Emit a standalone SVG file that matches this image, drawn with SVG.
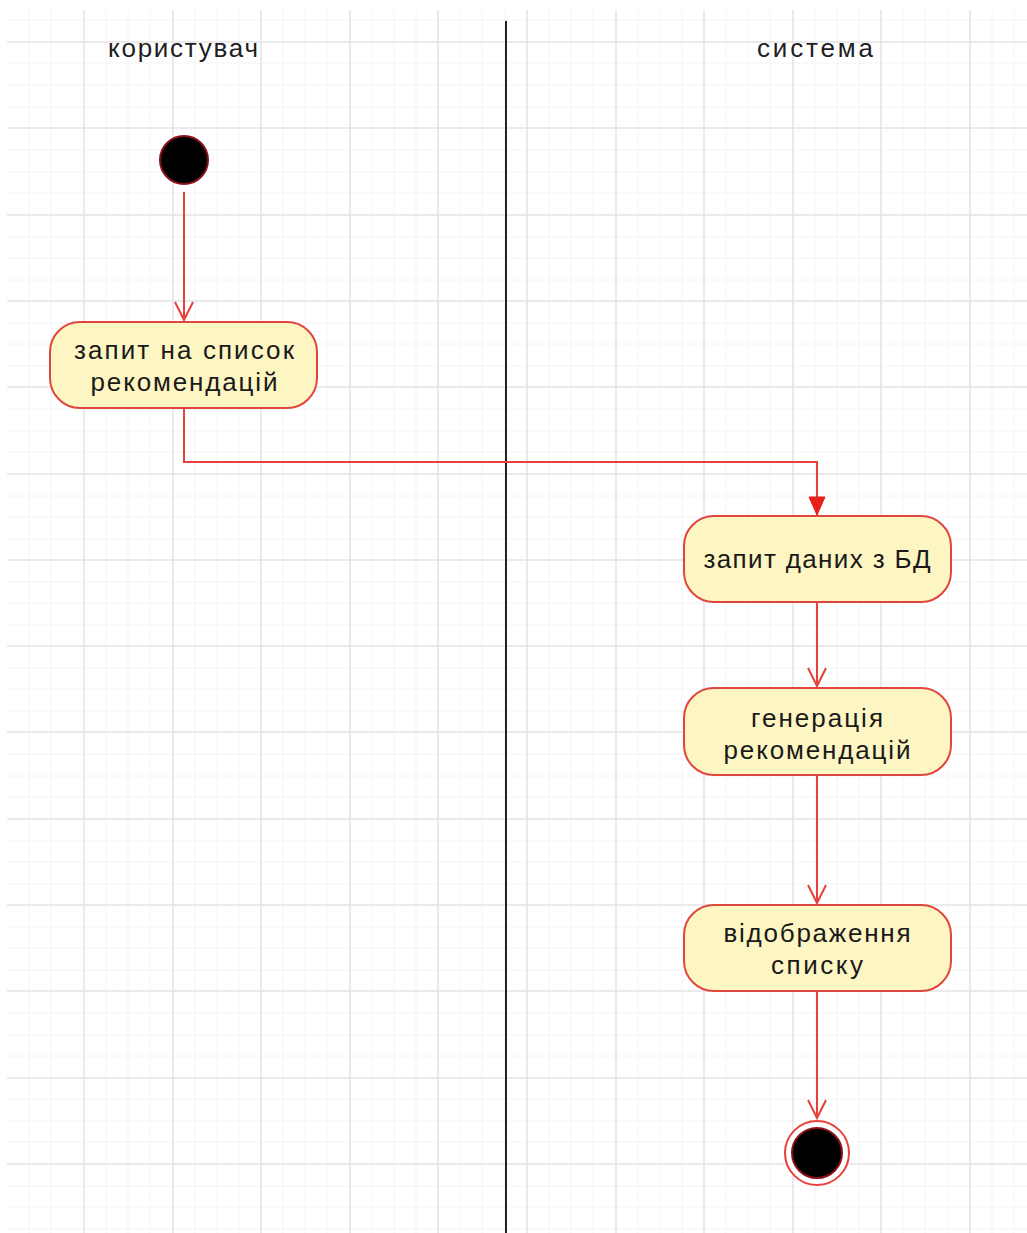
<svg xmlns="http://www.w3.org/2000/svg" width="1027" height="1233" viewBox="0 0 1027 1233">
<style>
.minor{stroke:#f4f4f4;stroke-width:1;fill:none}
.major{stroke:#e4e4e4;stroke-width:1.5;fill:none}
.lane{stroke:#222;stroke-width:2;fill:none}
.hdr{font-family:"Liberation Sans",Arial,sans-serif;font-size:26px;fill:#1e1e22;text-anchor:middle}
.act rect{fill:#fdf6c2;stroke:#e0463f;stroke-width:2}
.act text{font-family:"Liberation Sans",Arial,sans-serif;font-size:26px;fill:#1a1a1a;text-anchor:middle}
.conn path{stroke:#e8403c;stroke-width:2;fill:none}
</style>
<defs>
<marker id="open" markerWidth="24" markerHeight="24" viewBox="-20 -12 24 24" refX="0" refY="0" orient="auto" markerUnits="userSpaceOnUse">
<path d="M-18,-9 L0,0 L-18,9" fill="none" stroke="#e8403c" stroke-width="2"/>
</marker>
<marker id="filled" markerWidth="24" markerHeight="24" viewBox="-20 -12 24 24" refX="0" refY="0" orient="auto" markerUnits="userSpaceOnUse">
<path d="M-18,-8 L0,0 L-18,8 Z" fill="#e8201c" stroke="#e8201c" stroke-width="1"/>
</marker>
</defs>
<rect x="0" y="0" width="1027" height="1233" fill="#ffffff"/>
<g id="grid">
<path class="minor" d="M29,10V1233M51,10V1233M106,10V1233M128,10V1233M150,10V1233M195,10V1233M217,10V1233M239,10V1233M283,10V1233M305,10V1233M327,10V1233M372,10V1233M394,10V1233M416,10V1233M460,10V1233M482,10V1233M505,10V1233M549,10V1233M571,10V1233M593,10V1233M638,10V1233M660,10V1233M682,10V1233M726,10V1233M748,10V1233M770,10V1233M815,10V1233M837,10V1233M859,10V1233M903,10V1233M925,10V1233M948,10V1233M992,10V1233M1014,10V1233 M7,20H1027M7,63H1027M7,85H1027M7,107H1027M7,150H1027M7,172H1027M7,193H1027M7,237H1027M7,258H1027M7,280H1027M7,323H1027M7,344H1027M7,366H1027M7,409H1027M7,431H1027M7,452H1027M7,496H1027M7,517H1027M7,539H1027M7,582H1027M7,603H1027M7,625H1027M7,668H1027M7,689H1027M7,711H1027M7,754H1027M7,776H1027M7,797H1027M7,841H1027M7,862H1027M7,884H1027M7,927H1027M7,948H1027M7,970H1027M7,1013H1027M7,1035H1027M7,1056H1027M7,1099H1027M7,1121H1027M7,1142H1027M7,1186H1027M7,1207H1027M7,1229H1027"/>
<path class="major" d="M84,10V1233M173,10V1233M261,10V1233M350,10V1233M438,10V1233M527,10V1233M616,10V1233M704,10V1233M793,10V1233M881,10V1233M970,10V1233 M7,42H1027M7,128H1027M7,215H1027M7,301H1027M7,387H1027M7,474H1027M7,560H1027M7,646H1027M7,732H1027M7,819H1027M7,905H1027M7,991H1027M7,1078H1027M7,1164H1027"/>
</g>
<g id="swimlanes">
<path class="lane" d="M506,21V1233"/>
<text class="hdr" x="183" y="57" textLength="150" lengthAdjust="spacing">користувач</text>
<text class="hdr" x="815" y="57" textLength="116" lengthAdjust="spacing">система</text>
</g>
<g class="conn" id="connectors">
<path d="M184,192V320" marker-end="url(#open)"/>
<path d="M184,408V462H817V515" marker-end="url(#filled)"/>
<path d="M817,603V686" marker-end="url(#open)"/>
<path d="M817,775V903" marker-end="url(#open)"/>
<path d="M817,991V1118" marker-end="url(#open)"/>
</g>
<g id="start">
<circle cx="184" cy="160" r="24" fill="#000" stroke="#8a1018" stroke-width="2"/>
</g>
<g class="act" id="n1">
<rect x="50" y="322" width="267" height="86" rx="30" ry="30"/>
<text x="184" y="359" textLength="220" lengthAdjust="spacing">запит на список</text>
<text x="184" y="391" textLength="187" lengthAdjust="spacing">рекомендацій</text>
</g>
<g class="act" id="n2">
<rect x="684" y="516" width="267" height="86" rx="30" ry="30"/>
<text x="817" y="568" textLength="227" lengthAdjust="spacing">запит даних з БД</text>
</g>
<g class="act" id="n3">
<rect x="684" y="688" width="267" height="87" rx="30" ry="30"/>
<text x="817" y="727" textLength="132" lengthAdjust="spacing">генерація</text>
<text x="817" y="759" textLength="187" lengthAdjust="spacing">рекомендацій</text>
</g>
<g class="act" id="n4">
<rect x="684" y="905" width="267" height="86" rx="30" ry="30"/>
<text x="817" y="942" textLength="187" lengthAdjust="spacing">відображення</text>
<text x="817" y="974" textLength="92" lengthAdjust="spacing">списку</text>
</g>
<g id="end">
<circle cx="817" cy="1153" r="32" fill="#fff" stroke="#e8403c" stroke-width="2"/>
<circle cx="817" cy="1153" r="25" fill="#000" stroke="#8a1018" stroke-width="2"/>
</g>
</svg>
